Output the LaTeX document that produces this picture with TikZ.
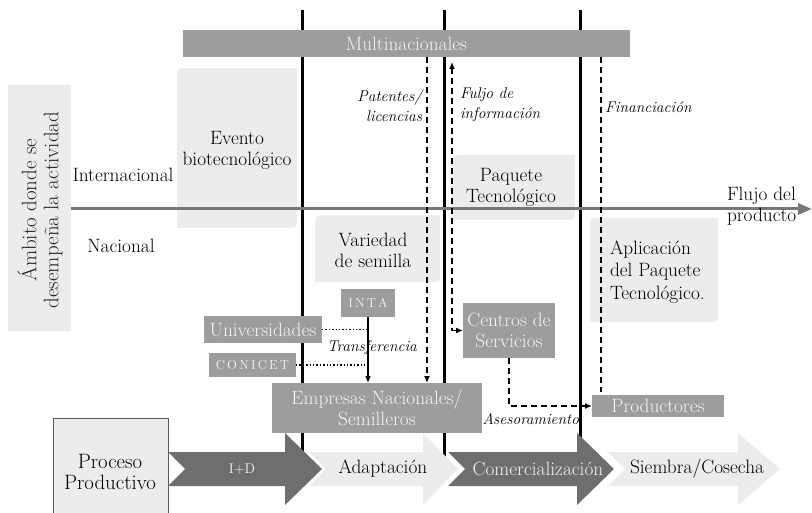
\documentclass[tikz,border=0pt]{standalone}
\usepackage{fontspec}
\usetikzlibrary{arrows.meta}
\definecolor{lg}{HTML}{ECECEC}
\definecolor{mg}{HTML}{9D9D9D}
\definecolor{dg}{HTML}{6E6E6E}
\definecolor{ag}{HTML}{777777}
\definecolor{wt}{HTML}{F4F4F4}
\newcommand{\diagbox}[4]{%
  \fill[lg] (#1,#4) -- (#1,{#2+12}) .. controls (#1,#2) .. ({#1+12},#2) -- (#3,#2)
   -- (#3,{#4-12}) .. controls (#3,#4) .. ({#3-12},#4) -- cycle;}
\newcommand{\chevr}[4]{%
  \fill[#4] (#1,452) -- (#2,452) -- (#2,433) -- (#3,469) -- (#2,505) -- (#2,486)
   -- (#1,486) -- ({#1+17},469) -- cycle;}
\begin{document}
\begin{tikzpicture}[x=1pt,y=-1pt,
  every node/.style={inner sep=0pt,outer sep=0pt},
  big/.style={font=\fontsize{19.3}{21}\selectfont},
  mgbox/.style={fill=mg,text=wt,align=center,font=\fontsize{19.3}{21}\selectfont},
  txt/.style={align=center,font=\fontsize{19.3}{21}\selectfont},
  lbl/.style={font=\fontsize{15.5}{20}\selectfont\itshape},
  dsh/.style={dash pattern=on 6pt off 4pt,line width=1.5pt},
  tip/.style={-{Latex[length=7pt,width=6pt]}},
  vline/.style={line width=3pt}
]
\useasboundingbox (0,0) rectangle (812,513);

% vertical stage separators
\coordinate (v1t) at (302,10); \coordinate (v1b) at (302,470);
\coordinate (v2t) at (444,10); \coordinate (v2b) at (444,470);
\coordinate (v3t) at (580,10); \coordinate (v3b) at (580,470);
\draw[vline] (v1t) -- (v1b);
\draw[vline] (v2t) -- (v2b);
\draw[vline] (v3t) -- (v3b);

% left label box
\fill[lg] (8,85) rectangle (71,331);
\node[rotate=90,align=center,font=\fontsize{21}{22}\selectfont,text=black!85] (ambito) at (40,210)
  {Ámbito donde se\\desempeña la actividad};

% light boxes
\diagbox{177}{68}{297}{228}
\diagbox{452}{155}{575}{220}
\diagbox{315}{215}{440}{282}
\diagbox{590}{218}{718}{322}
\node[txt] (evento) at (237,150) {Evento\\biotecnológico};
\node[txt] (paquete) at (511,187) {Paquete\\Tecnológico};
\node[txt] (variedad) at (373,250) {Variedad\\de semilla};
\node[txt,align=left,anchor=west,font=\fontsize{19.3}{22.5}\selectfont] (aplic) at (610,272) {Aplicación\\del Paquete\\Tecnológico.};

% product flow
\coordinate (flowS) at (71,209);
\coordinate (flowE) at (812,209);
\draw[ag,line width=3pt,-{Triangle[length=14pt,width=11pt]}] (flowS) -- (flowE);
\node[big] (intl) at (123,175) {Internacional};
\node[big] (nac) at (121,246) {Nacional};
\node[txt,align=left,anchor=west] (flujo) at (727,206) {Flujo del\\producto};

% mid-grey actor boxes
\node[mgbox,minimum width=447pt,minimum height=27pt] (mult) at (406.5,43.5) {Multinacionales};
\node[mgbox,minimum width=54pt,minimum height=28pt,font=\fontsize{13}{15}\selectfont] (inta) at (368,303) {I\,N\,T\,A};
\node[mgbox,minimum width=118pt,minimum height=27pt] (univ) at (263,329.5) {Universidades};
\node[mgbox,minimum width=87pt,minimum height=24pt,font=\fontsize{13}{15}\selectfont] (conicet) at (252.5,365) {C\,O\,N\,I\,C\,E\,T};
\node[mgbox,minimum width=210pt,minimum height=50pt] (empresas) at (377,408) {Empresas Nacionales/\\Semilleros};
\node[mgbox,minimum width=92pt,minimum height=55pt] (centros) at (509,330.5) {Centros de\\Servicios};
\node[mgbox,minimum width=132pt,minimum height=22pt] (productores) at (658,406) {Productores};

% connectors
\coordinate (patx) at (427,0);
\coordinate (fujx) at (452,0);
\coordinate (finx) at (601,0);
\coordinate (fujtop) at (452,62);
\coordinate (finbot) at (601,392);
\draw[dsh,tip] (mult.south -| patx) -- (empresas.north -| patx);
\draw[dsh,{Latex[length=7pt,width=6pt]}-{Latex[length=7pt,width=6pt]}] (fujtop) -- (fujx |- centros.west) -- (centros.west);
\draw[dsh] (mult.south -| finx) -- (finbot);
\draw[dsh,tip] (centros.south) -- (centros.south |- productores.west) -- (productores.west);
\draw[line width=1.2pt,tip] (inta.south) -- (inta.south |- empresas.north);
\draw[dotted,line width=1.4pt] (univ.east) -- (univ.east -| inta.south);
\draw[dotted,line width=1.4pt] (conicet.east) -- (conicet.east -| inta.south);

\node[lbl,align=right,anchor=east] (patentes) at (422,106) {Patentes/\\licencias};
\node[lbl,align=left,anchor=west] (fuljo) at (460,105) {Fuljo de\\información};
\node[lbl,anchor=west] (financ) at (605,107) {Financiación};
\node[lbl] (transf) at (372,348) {Transferencia};
\node[lbl,anchor=east] (aseso) at (579,419) {Asesoramiento};

% bottom process
\draw[fill=lg,draw=black!65,line width=1pt] (53,418) rectangle (168,520);
\node[align=center,font=\fontsize{20.8}{21}\selectfont] (proceso) at (110,472) {Proceso\\Productivo};
\chevr{168}{285}{322}{dg}
\chevr{309}{423}{458}{lg}
\chevr{448}{577}{614}{dg}
\chevr{608}{738}{780}{lg}
\node[text=wt,font=\fontsize{14}{15}\selectfont] (iyd) at (242,469) {I+D};
\node[big] (adapt) at (383,469) {Adaptación};
\node[big,text=wt] (comer) at (538,469) {Comercialización};
\node[big] (siembra) at (697,469) {Siembra/Cosecha};
\end{tikzpicture}
\end{document}
